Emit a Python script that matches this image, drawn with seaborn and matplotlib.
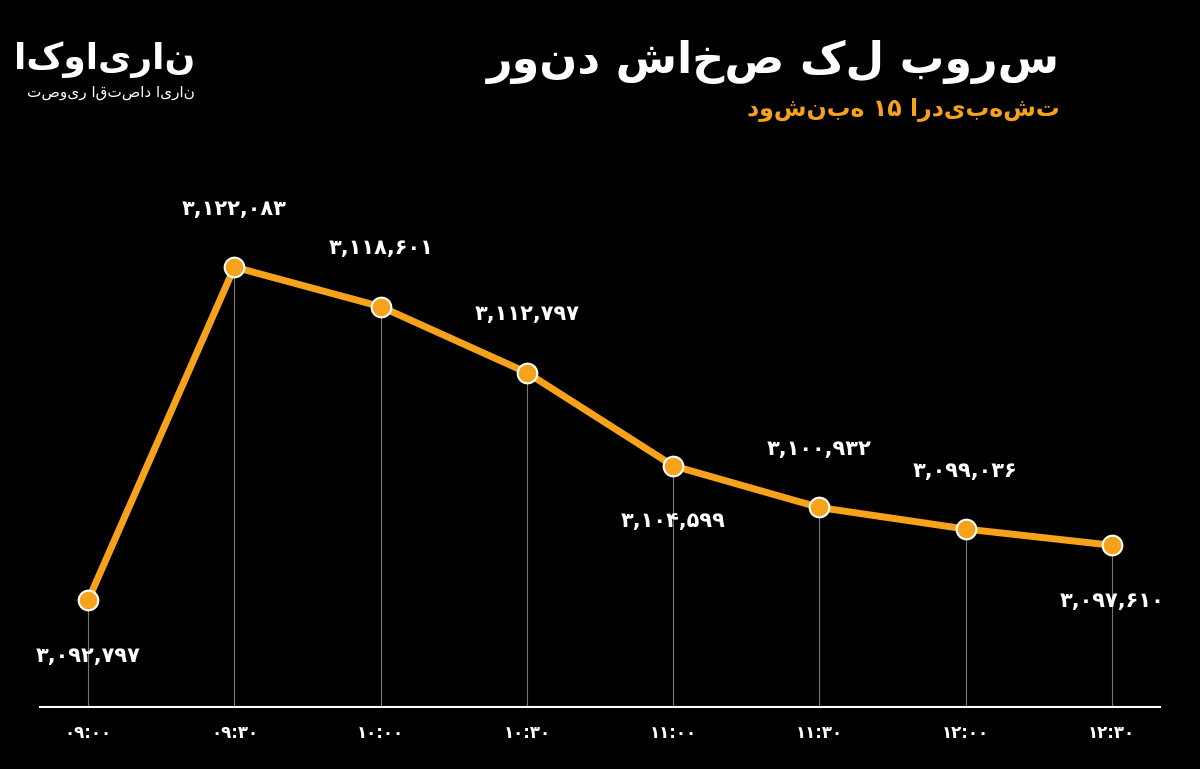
import matplotlib
matplotlib.use("Agg")
import matplotlib.pyplot as plt
import seaborn as sns
import pandas as pd

times = ["۰۹:۰۰", "۰۹:۳۰", "۱۰:۰۰", "۱۰:۳۰", "۱۱:۰۰", "۱۱:۳۰", "۱۲:۰۰", "۱۲:۳۰"]
values = [3092797, 3122083, 3118601, 3112797, 3104599, 3100932, 3099036, 3097610]
labels = ["۳,۰۹۲,۷۹۷", "۳,۱۲۲,۰۸۳", "۳,۱۱۸,۶۰۱", "۳,۱۱۲,۷۹۷",
          "۳,۱۰۴,۵۹۹", "۳,۱۰۰,۹۳۲", "۳,۰۹۹,۰۳۶", "۳,۰۹۷,۶۱۰"]
below = [True, False, False, False, True, False, False, True]

sns.set_theme(style="dark")
plt.rcParams['font.family'] = ['DejaVu Sans']
ORANGE = "#F7A21B"

fig = plt.figure(figsize=(12, 7.69), dpi=100)
fig.patch.set_facecolor("black")
ax = fig.add_axes([40/1200, 62/769, 1120/1200, 507/769])
ax.set_facecolor("black")

df = pd.DataFrame({"x": range(len(times)), "v": values})
for i, v in enumerate(values):
    ax.vlines(i, 3083380, v, color="#777777", lw=0.8, zorder=1)
sns.lineplot(data=df, x="x", y="v", ax=ax, color=ORANGE, lw=5, zorder=2)
sns.scatterplot(data=df, x="x", y="v", ax=ax, color=ORANGE, s=200,
                edgecolor="white", linewidth=1.5, zorder=3)
for i, (v, lab, b) in enumerate(zip(values, labels, below)):
    ax.annotate(lab, (i, v), xytext=(0, -40 if b else 42), textcoords="offset points",
                ha="center", va="center", color="white", fontsize=15, fontweight="bold")

ax.set_xlim(-0.33, 7.33)
ax.set_ylim(3083380, 3127980)
ax.set_xticks(range(len(times)))
ax.set_xticklabels(times, color="white", fontsize=12, fontweight="bold")
ax.set_yticks([])
ax.set_xlabel(""); ax.set_ylabel("")
ax.tick_params(axis="x", length=0, pad=12)
for s in ["top", "right", "left"]:
    ax.spines[s].set_visible(False)
ax.spines["bottom"].set_color("white")
ax.spines["bottom"].set_linewidth(1.5)
ax.grid(False)

fig.text(1060/1200, 1 - 62/769, "روند شاخص کل بورس", color="white", fontsize=32,
         fontweight="bold", ha="right", va="center")
fig.text(1060/1200, 1 - 110/769, "دوشنبه ۱۵ اردیبهشت", color=ORANGE, fontsize=17,
         fontweight="bold", ha="right", va="center")
fig.text(195/1200, 1 - 60/769, "اکوایران", color="white", fontsize=26,
         fontweight="bold", ha="right", va="center")
fig.text(195/1200, 1 - 92/769, "تصویر اقتصاد ایران", color="white", fontsize=11,
         ha="right", va="center")

fig.savefig("out.png", dpi=100, facecolor="black")
